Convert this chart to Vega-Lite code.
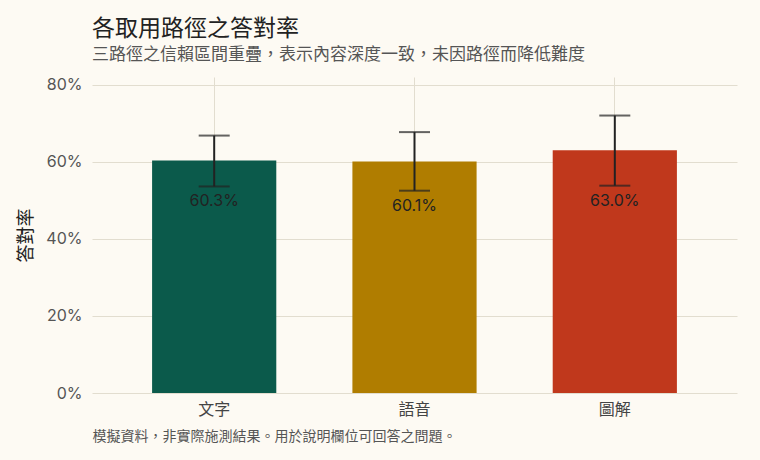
{
  "$schema": "https://vega.github.io/schema/vega-lite/v6.json",
  "autosize": "none",
  "padding": {"left": 92, "top": 77, "right": 23, "bottom": 67},
  "width": 645,
  "height": 316,
  "background": "#fdfaf3",
  "title": {
    "text": "各取用路徑之答對率",
    "subtitle": "三路徑之信賴區間重疊，表示內容深度一致，未因路徑而降低難度",
    "anchor": "start",
    "frame": "group",
    "font": "Noto Sans CJK TC",
    "fontSize": 23,
    "fontWeight": "normal",
    "color": "#222222",
    "subtitleFont": "Noto Sans CJK TC",
    "subtitleFontSize": 17,
    "subtitleColor": "#555555",
    "subtitlePadding": 6,
    "offset": 14
  },
  "data": {
    "values": [
      {"path": "文字", "rate": 0.603, "lo": 0.536, "hi": 0.668},
      {"path": "語音", "rate": 0.601, "lo": 0.525, "hi": 0.677},
      {"path": "圖解", "rate": 0.630, "lo": 0.538, "hi": 0.720}
    ]
  },
  "encoding": {
    "x": {
      "field": "path",
      "type": "nominal",
      "sort": ["文字", "語音", "圖解"],
      "scale": {"paddingInner": 0.38, "paddingOuter": 0.3},
      "axis": {
        "title": "模擬資料，非實際施測結果。用於說明欄位可回答之問題。",
        "titleAnchor": "start",
        "titleFont": "Noto Sans CJK TC",
        "titleFontSize": 14,
        "titleFontWeight": "normal",
        "titleColor": "#555555",
        "titlePadding": 12,
        "labelAngle": 0,
        "labelFontSize": 16,
        "labelColor": "#444444",
        "labelPadding": 8,
        "domain": false,
        "ticks": false,
        "grid": true
      }
    }
  },
  "layer": [
    {
      "mark": {"type": "bar"},
      "encoding": {
        "y": {
          "field": "rate",
          "type": "quantitative",
          "scale": {"domain": [0, 0.82], "nice": false},
          "axis": {
            "title": "答對率",
            "titleFontSize": 18,
            "titleFontWeight": "normal",
            "titleColor": "#222222",
            "titlePadding": 10,
            "values": [0, 0.2, 0.4, 0.6, 0.8],
            "format": ".0%",
            "labelFontSize": 16,
            "labelColor": "#555555",
            "labelPadding": 10,
            "domain": false,
            "ticks": false
          }
        },
        "color": {
          "field": "path",
          "type": "nominal",
          "scale": {"domain": ["文字", "語音", "圖解"], "range": ["#0b5a4b", "#b07d00", "#c0381c"]},
          "legend": null
        }
      }
    },
    {
      "mark": {"type": "rule", "color": "#222222", "strokeWidth": 2},
      "encoding": {
        "y": {"field": "lo", "type": "quantitative"},
        "y2": {"field": "hi"}
      }
    },
    {
      "mark": {"type": "tick", "color": "#222222", "size": 31, "thickness": 2, "orient": "horizontal"},
      "encoding": {"y": {"field": "lo", "type": "quantitative"}}
    },
    {
      "mark": {"type": "tick", "color": "#222222", "size": 31, "thickness": 2, "orient": "horizontal"},
      "encoding": {"y": {"field": "hi", "type": "quantitative"}}
    },
    {
      "mark": {"type": "text", "baseline": "top", "dy": 7, "fontSize": 16, "color": "#222222"},
      "encoding": {
        "y": {"field": "lo", "type": "quantitative"},
        "text": {"field": "rate", "type": "quantitative", "format": ".1%"}
      }
    }
  ],
  "config": {
    "font": "Inter, Noto Sans CJK TC",
    "view": {"stroke": null},
    "axis": {"gridColor": "#e2ddcf", "gridWidth": 1}
  }
}
